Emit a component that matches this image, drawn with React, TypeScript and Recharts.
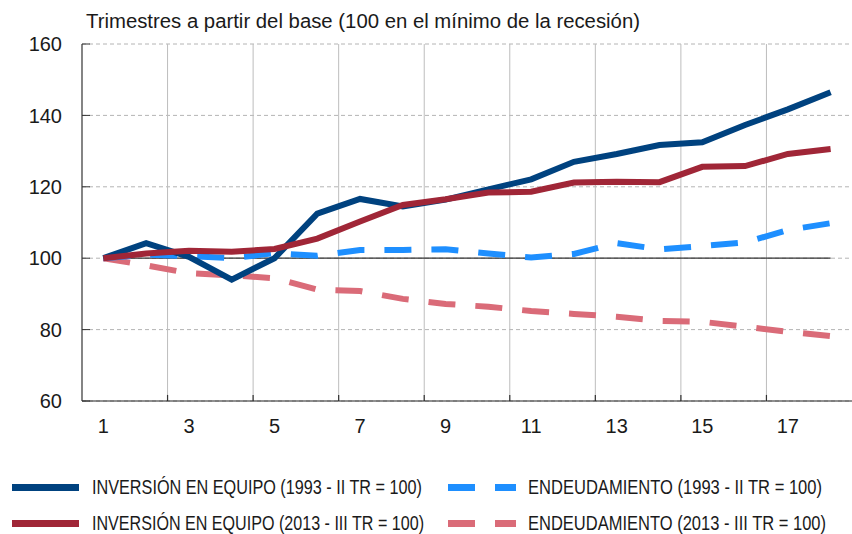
import React from 'react';
import { LineChart, Line, XAxis, YAxis, CartesianGrid, ReferenceLine } from 'recharts';

const quarters = [1, 2, 3, 4, 5, 6, 7, 8, 9, 10, 11, 12, 13, 14, 15, 16, 17, 18];
const xTickLabels = [1, 3, 5, 7, 9, 11, 13, 15, 17];
const xGridTicks = [2.5, 4.5, 6.5, 8.5, 10.5, 12.5, 14.5, 16.5];
const yTicks = [60, 80, 100, 120, 140, 160];
const yDomain: [number, number] = [60, 160];
const baseValue = 100;

const inversion1993 = [100, 104.2, 100.4, 94.0, 100.0, 112.5, 116.6, 114.5, 116.4, 119.3, 122.1, 127.0, 129.2, 131.7, 132.5, 137.3, 141.7, 146.5];
const inversion2013 = [100, 101.3, 102.1, 101.8, 102.6, 105.5, 110.3, 114.9, 116.5, 118.4, 118.6, 121.2, 121.4, 121.3, 125.6, 125.8, 129.2, 130.6];
const endeudamiento1993 = [100, 101.0, 100.6, 100.0, 101.4, 100.7, 102.3, 102.3, 102.5, 101.3, 100.2, 101.2, 104.2, 102.5, 103.4, 104.4, 107.9, 109.8];
const endeudamiento2013 = [100, 98.0, 95.8, 95.2, 94.4, 91.2, 90.8, 88.6, 87.2, 86.4, 85.2, 84.4, 83.6, 82.4, 82.2, 80.8, 79.4, 78.2];

const titleText = 'Trimestres a partir del base (100 en el mínimo de la recesión)';

const series = [
  { key: 'inv1993', name: 'INVERSIÓN EN EQUIPO (1993 - II TR = 100)', color: '#00427F', dashed: false, textWidth: 330 },
  { key: 'deu1993', name: 'ENDEUDAMIENTO (1993 - II TR = 100)', color: '#1E8FFF', dashed: true, textWidth: 294 },
  { key: 'inv2013', name: 'INVERSIÓN EN EQUIPO (2013 - III TR = 100)', color: '#A02637', dashed: false, textWidth: 332 },
  { key: 'deu2013', name: 'ENDEUDAMIENTO (2013 - III TR = 100)', color: '#DA6B78', dashed: true, textWidth: 298 },
];

const data = quarters.map((q, i) => ({
  q,
  inv1993: inversion1993[i],
  inv2013: inversion2013[i],
  deu1993: endeudamiento1993[i],
  deu2013: endeudamiento2013[i],
}));

const FONT = "'Liberation Sans', Arial, sans-serif";
const DASH = '27 20';
const TICK_UNITS = 1.7;
const CONDENSE = 0.78;

const drawOrder = ['deu2013', 'deu1993', 'inv1993', 'inv2013'];

export default function App() {
  return (
    <div style={{ position: 'absolute', left: 0, top: 0, width: 852, height: 534, background: '#fff' }}>
      <div style={{ position: 'absolute', left: 0, top: 0 }}>
        <LineChart width={852} height={440} data={data} margin={{ top: 44, right: 0, bottom: 0, left: 0 }}>
          <CartesianGrid horizontal vertical={false} stroke="#b4b4b4" strokeDasharray="4 3" />
          <XAxis
            dataKey="q"
            type="number"
            domain={[0.5, 18.5]}
            ticks={xTickLabels}
            interval={0}
            tickLine={false}
            tickSize={0}
            tickMargin={18}
            height={39}
            axisLine={{ stroke: '#222', strokeWidth: 1.2 }}
            tick={{ fontSize: 20, fill: '#1a1a1a', fontFamily: FONT }}
          />
          <YAxis
            domain={yDomain}
            ticks={yTicks}
            interval={0}
            width={82}
            tickSize={-8}
            tickMargin={28}
            tickLine={{ stroke: '#333' }}
            axisLine={{ stroke: '#333', strokeWidth: 1.2 }}
            tick={{ fontSize: 20, fill: '#1a1a1a', fontFamily: FONT }}
          />
          {xGridTicks.map((gx) => (
            <ReferenceLine key={'g' + gx} x={gx} stroke="#bdbdbd" strokeWidth={1} />
          ))}
          {xGridTicks.map((gx) => (
            <ReferenceLine
              key={'t' + gx}
              segment={[
                { x: gx, y: yDomain[0] },
                { x: gx, y: yDomain[0] + TICK_UNITS },
              ]}
              stroke="#333"
              strokeWidth={1.2}
            />
          ))}
          <ReferenceLine
            segment={[
              { x: quarters[0], y: baseValue },
              { x: quarters[quarters.length - 1], y: baseValue },
            ]}
            stroke="#333"
            strokeWidth={1.2}
          />
          {drawOrder.map((k) => {
            const s = series.find((x) => x.key === k)!;
            return (
              <Line
                key={s.key}
                dataKey={s.key}
                name={s.name}
                stroke={s.color}
                strokeWidth={6}
                strokeDasharray={s.dashed ? DASH : undefined}
                dot={false}
                activeDot={false}
                isAnimationActive={false}
                type="linear"
              />
            );
          })}
        </LineChart>
      </div>
      <svg width={852} height={40} style={{ position: 'absolute', left: 0, top: 0 }}>
        <text x={86} y={28} fontSize={20} fill="#1a1a1a" fontFamily={FONT} textLength={554} lengthAdjust="spacingAndGlyphs">
          {titleText}
        </text>
      </svg>
      <svg width={852} height={94} style={{ position: 'absolute', left: 0, top: 440 }}>
        {series.map((s, i) => {
          const col = i % 2;
          const row = Math.floor(i / 2);
          const cy = row === 0 ? 47.5 : 83.5;
          const x0 = col === 0 ? 12 : 448;
          const x1 = col === 0 ? 79 : 516;
          const tx = col === 0 ? 92 : 528;
          return (
            <g key={s.key}>
              <line
                x1={x0}
                x2={x1}
                y1={cy}
                y2={cy}
                stroke={s.color}
                strokeWidth={7}
                strokeDasharray={s.dashed ? DASH : undefined}
              />
              <g transform={`translate(${tx}, ${cy}) scale(${CONDENSE}, 1)`}>
                <text
                  x={0}
                  y={0}
                  dy="0.33em"
                  fontSize={20}
                  fill="#1a1a1a"
                  fontFamily={FONT}
                  textLength={s.textWidth / CONDENSE}
                  lengthAdjust="spacingAndGlyphs"
                >
                  {s.name}
                </text>
              </g>
            </g>
          );
        })}
      </svg>
    </div>
  );
}
